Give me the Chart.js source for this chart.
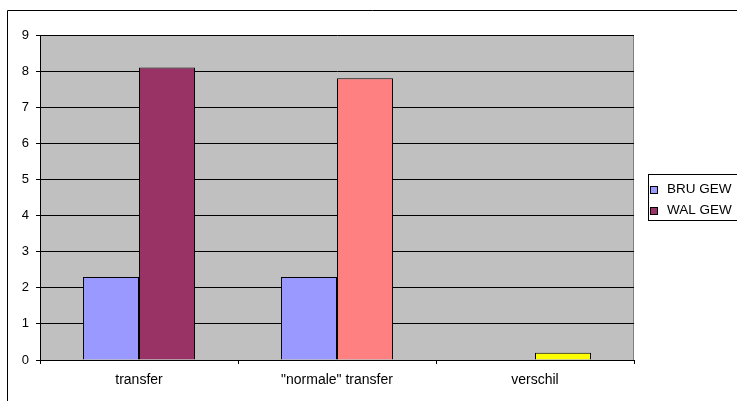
<!DOCTYPE html>
<html>
<head>
<meta charset="utf-8">
<script src="https://cdn.jsdelivr.net/npm/chart.js@4/dist/chart.umd.min.js"></script>
<style>
  html, body { margin: 0; padding: 0; background: #fff; }
  canvas { display: block; }
</style>
</head>
<body>
<canvas id="c" width="737" height="401"></canvas>
<script>
// Categories and series
const categories = ['transfer', '"normale" transfer', 'verschil'];
const seriesNames = ['BRU GEW', 'WAL GEW'];
const bruValues = [2.3, 2.3, 0];
const walValues = [8.1, 7.8, 0.2];
const bruColor = '#9999FF';
const walColors = ['#993366', '#FF8080', '#FFFF00'];
const yTicks = [0, 1, 2, 3, 4, 5, 6, 7, 8, 9];

const FONT = 'Liberation Sans, Arial, sans-serif';

// Frame, plot background and legend box drawn around the chart
const framePlugin = {
  id: 'frame',
  beforeDraw(chart) {
    const ctx = chart.ctx;
    const a = chart.chartArea;
    ctx.save();
    ctx.fillStyle = '#fff';
    ctx.fillRect(0, 0, chart.width, chart.height);
    // outer chart border
    ctx.strokeStyle = '#000';
    ctx.lineWidth = 1;
    ctx.beginPath();
    ctx.moveTo(7.5, chart.height + 2);
    ctx.lineTo(7.5, 10.5);
    ctx.lineTo(chart.width + 2, 10.5);
    ctx.stroke();
    // plot area
    ctx.fillStyle = '#C0C0C0';
    ctx.fillRect(a.left, a.top, a.right - a.left, a.bottom - a.top);
    ctx.strokeStyle = '#808080';
    ctx.beginPath();
    ctx.moveTo(Math.round(a.right) - 0.5, a.top);
    ctx.lineTo(Math.round(a.right) - 0.5, a.bottom);
    ctx.stroke();
    ctx.restore();
  },
  afterDraw(chart) {
    const ctx = chart.ctx;
    ctx.save();
    // legend box
    const lx = 648.5, ly = 174.5, lw = 100, lh = 46;
    ctx.strokeStyle = '#000';
    ctx.lineWidth = 1;
    ctx.strokeRect(lx, ly, lw, lh);
    const swatches = [bruColor, walColors[0]];
    const rows = [189, 210];
    ctx.font = '13.5px ' + FONT;
    ctx.textBaseline = 'middle';
    ctx.textAlign = 'left';
    seriesNames.forEach((name, i) => {
      const cy = rows[i];
      ctx.fillStyle = swatches[i];
      ctx.fillRect(651, cy - 2, 6, 6);
      ctx.strokeStyle = '#000';
      ctx.strokeRect(650.5, cy - 2.5, 7, 7);
      ctx.fillStyle = '#000';
      ctx.fillText(name, 667, cy);
    });
    ctx.restore();
  }
};

new Chart(document.getElementById('c'), {
  type: 'bar',
  data: {
    labels: categories,
    datasets: [
      {
        label: seriesNames[0],
        data: bruValues,
        backgroundColor: bruColor,
        borderColor: '#000',
        borderWidth: 1
      },
      {
        label: seriesNames[1],
        data: walValues,
        backgroundColor: walColors,
        borderColor: '#000',
        borderWidth: 1
      }
    ]
  },
  options: {
    responsive: false,
    animation: false,
    devicePixelRatio: 1,
    layout: { padding: { left: 0, right: 103, top: 35, bottom: 0 } },
    datasets: {
      bar: { categoryPercentage: 0.566, barPercentage: 1.0 }
    },
    plugins: {
      legend: { display: false },
      tooltip: { enabled: false }
    },
    scales: {
      x: {
        afterFit(scale) { scale.height = 41; },
        grid: {
          display: true,
          drawOnChartArea: false,
          drawTicks: true,
          tickLength: 4,
          color: '#000',
          offset: true
        },
        border: { display: true, color: '#000', width: 1 },
        ticks: {
          color: '#000',
          font: { family: FONT, size: 14 },
          padding: 8,
          maxRotation: 0
        }
      },
      y: {
        min: 0,
        max: 9,
        afterFit(scale) { scale.width = 40; },
        afterBuildTicks(scale) { scale.ticks = yTicks.map(v => ({ value: v })); },
        grid: {
          color: '#000',
          lineWidth: 1,
          drawTicks: true,
          tickLength: 4
        },
        border: { display: true, color: '#000', width: 1 },
        ticks: {
          color: '#000',
          font: { family: FONT, size: 13 },
          padding: 7
        }
      }
    }
  },
  plugins: [framePlugin]
});
</script>
</body>
</html>
